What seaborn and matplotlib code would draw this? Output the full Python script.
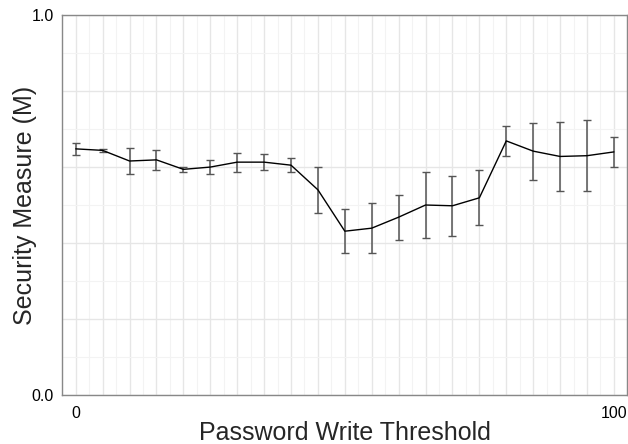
import numpy as np
import pandas as pd
import seaborn as sns
import matplotlib.pyplot as plt
from matplotlib.ticker import MultipleLocator

# 数据
threshold = [0, 5, 10, 15, 20, 25, 30, 35, 40, 45, 50,
             55, 60, 65, 70, 75, 80, 85, 90, 95, 100]
security = [0.648, 0.644, 0.616, 0.619, 0.594, 0.600, 0.613, 0.613, 0.605, 0.540, 0.431,
            0.439, 0.468, 0.500, 0.498, 0.519, 0.669, 0.642, 0.628, 0.630, 0.640]
err = [0.016, 0.0045, 0.033, 0.027, 0.0075, 0.018, 0.025, 0.022, 0.018, 0.061, 0.058,
       0.066, 0.059, 0.088, 0.079, 0.072, 0.039, 0.075, 0.092, 0.093, 0.039]
xtick_labels = ['0'] + [''] * 19 + ['100']
ytick_labels = ['0.0', '', '', '', '', '1.0']

df = pd.DataFrame({'threshold': threshold, 'security': security, 'err': err})

sns.set_style('white')
plt.rcParams['font.family'] = ['Liberation Sans', 'DejaVu Sans']

fig = plt.figure(figsize=(6.28, 4.44), dpi=100)
ax = fig.add_axes([0.0992, 0.111, 0.8998, 0.8545])

eb = ax.errorbar(df['threshold'], df['security'], yerr=df['err'], fmt='none',
                 ecolor='#555555', elinewidth=1.1, capsize=2.8, capthick=1.0, zorder=3)
for cap in eb[1]:
    cap.set_color('black')  # 误差线端帽为黑色
sns.lineplot(data=df, x='threshold', y='security', color='black', linewidth=1.0,
             ax=ax, zorder=4)

ax.set_xlim(-2.5, 102.5)
ax.set_ylim(0, 1)

# 网格
ax.xaxis.set_minor_locator(MultipleLocator(2.5))
ax.yaxis.set_minor_locator(MultipleLocator(0.1))
ax.set_xticks(np.arange(0, 101, 5))
ax.set_xticklabels(xtick_labels)
ax.set_yticks(np.arange(0, 1.01, 0.2))
ax.set_yticklabels(ytick_labels)
ax.grid(which='major', color='#e6e6e6', linewidth=1.0)
ax.grid(which='minor', color='#f3f3f3', linewidth=0.8)
ax.set_axisbelow(True)

for s in ax.spines.values():
    s.set_color('#888888')
    s.set_linewidth(1.0)

ax.tick_params(axis='both', which='major', direction='out', length=4, width=1,
               color='#444444', labelsize=11.5, labelcolor='black', pad=2)
ax.tick_params(axis='both', which='minor', length=0)
ax.tick_params(axis='x', pad=4)

ax.set_xlabel('Password Write Threshold', fontsize=18)
ax.set_ylabel('Security Measure (M)', fontsize=18)
ax.xaxis.set_label_coords(0.5, -0.070)
ax.yaxis.set_label_coords(-0.045, 0.5)

plt.savefig('out.png', dpi=100)
